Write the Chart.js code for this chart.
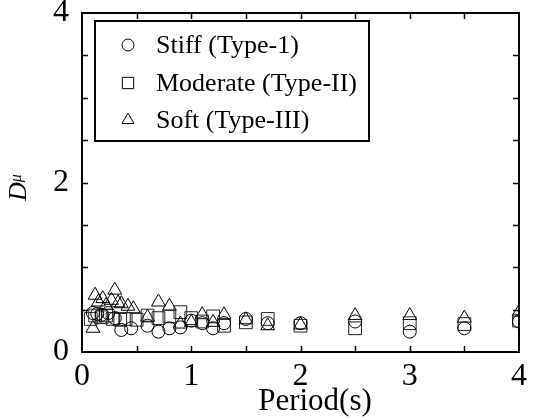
<!DOCTYPE html>
<html>
<head>
<meta charset="utf-8">
<script src="https://cdn.jsdelivr.net/npm/chart.js@4.4.1/dist/chart.umd.min.js"></script>
<style>
  html, body { margin: 0; padding: 0; background: #fff; }
  #wrap { width: 534px; height: 420px; }
</style>
</head>
<body>
<div id="wrap"><canvas id="ductilityChart"></canvas></div>
<script>
// Period (s) and D_mu values for each site class
const stiffPeriod = [0.10, 0.14, 0.18, 0.24, 0.30, 0.36, 0.45, 0.60, 0.70, 0.80, 0.90, 1.00, 1.10, 1.20, 1.30, 1.50, 1.70, 2.00, 2.50, 3.00, 3.50, 4.00];
const stiffDmu    = [0.46, 0.45, 0.44, 0.46, 0.40, 0.26, 0.28, 0.31, 0.24, 0.28, 0.29, 0.37, 0.34, 0.28, 0.34, 0.39, 0.34, 0.34, 0.36, 0.24, 0.28, 0.36];

const moderatePeriod = [0.08, 0.12, 0.18, 0.22, 0.28, 0.35, 0.40, 0.50, 0.60, 0.70, 0.80, 0.90, 1.00, 1.10, 1.20, 1.30, 1.50, 1.70, 2.00, 2.50, 3.00, 3.50, 4.00];
const moderateDmu    = [0.39, 0.43, 0.41, 0.43, 0.39, 0.38, 0.39, 0.38, 0.43, 0.40, 0.42, 0.47, 0.40, 0.36, 0.42, 0.31, 0.35, 0.39, 0.31, 0.28, 0.34, 0.33, 0.37];

const softPeriod = [0.10, 0.12, 0.15, 0.19, 0.22, 0.27, 0.30, 0.33, 0.36, 0.42, 0.47, 0.60, 0.70, 0.80, 0.90, 1.00, 1.10, 1.20, 1.30, 1.50, 1.70, 2.00, 2.50, 3.00, 3.50, 4.00];
const softDmu    = [0.28, 0.67, 0.59, 0.63, 0.55, 0.61, 0.73, 0.58, 0.57, 0.54, 0.51, 0.41, 0.59, 0.54, 0.33, 0.35, 0.44, 0.35, 0.44, 0.38, 0.31, 0.32, 0.43, 0.43, 0.40, 0.47];

const seriesLabels = ['Stiff (Type-1)', 'Moderate (Type-II)', 'Soft (Type-III)'];
const xTickLabels = [0, 1, 2, 3, 4];
const yTickLabels = [0, 2, 4];

const SERIF = '"Liberation Serif", "Times New Roman", serif';

function toPoints(xs, ys) {
    return xs.map(function(x, i) { return { x: x, y: ys[i] }; });
}

// frame, inward ticks on all four sides, axis titles and the boxed legend
const framePlugin = {
    id: 'frame',
    afterDraw: function(chart) {
        const ctx = chart.ctx;
        const a = chart.chartArea;
        const xs = chart.scales.x;
        const ys = chart.scales.y;
        ctx.save();
        ctx.strokeStyle = '#000';
        ctx.lineWidth = 2;
        ctx.strokeRect(a.left, a.top, a.right - a.left, a.bottom - a.top);

        ctx.lineWidth = 1.5;
        ctx.beginPath();
        for (let v = 0.5; v < 4; v += 0.5) {
            const px = Math.round(xs.getPixelForValue(v)) + 0.5;
            ctx.moveTo(px, a.bottom); ctx.lineTo(px, a.bottom - 6);
            ctx.moveTo(px, a.top); ctx.lineTo(px, a.top + 6);
            const py = Math.round(ys.getPixelForValue(v)) + 0.5;
            ctx.moveTo(a.left, py); ctx.lineTo(a.left + 6, py);
            ctx.moveTo(a.right, py); ctx.lineTo(a.right - 6, py);
        }
        ctx.stroke();

        // x title
        ctx.fillStyle = '#000';
        ctx.font = '31px ' + SERIF;
        ctx.textAlign = 'center';
        ctx.textBaseline = 'alphabetic';
        ctx.fillText('Period(s)', 315, 410);

        // y title: italic D with mu
        ctx.save();
        ctx.translate(26, 201);
        ctx.rotate(-Math.PI / 2);
        ctx.textAlign = 'left';
        ctx.font = 'italic 26px ' + SERIF;
        ctx.fillText('D', 0, 0);
        const dw = ctx.measureText('D').width;
        ctx.font = 'italic 16px ' + SERIF;
        ctx.fillText('\u03bc', dw, -5);
        ctx.restore();

        // legend box
        ctx.lineWidth = 2;
        ctx.strokeRect(95, 21, 274, 120);
        const rows = [45, 83, 120];
        const styles = ['circle', 'rect', 'triangle'];
        const radii = [6, 8, 7];
        ctx.font = '26px ' + SERIF;
        ctx.textAlign = 'left';
        ctx.textBaseline = 'middle';
        chart.data.datasets.forEach(function(ds, i) {
            ctx.lineWidth = 1;
            ctx.strokeStyle = '#000';
            ctx.fillStyle = 'rgba(0,0,0,0)';
            Chart.helpers.drawPoint(ctx, { pointStyle: styles[i], radius: radii[i], borderWidth: 1, rotation: 0 }, 128, rows[i]);
            ctx.fillStyle = '#000';
            ctx.fillText(ds.label, 156, rows[i] + 1);
        });
        ctx.restore();
    }
};

const ctx = document.getElementById('ductilityChart').getContext('2d');
new Chart(ctx, {
    type: 'scatter',
    data: {
        datasets: [
            {
                label: seriesLabels[0],
                data: toPoints(stiffPeriod, stiffDmu),
                pointStyle: 'circle',
                pointRadius: 6.5,
                borderColor: '#000',
                backgroundColor: 'rgba(0,0,0,0)',
                borderWidth: 1
            },
            {
                label: seriesLabels[1],
                data: toPoints(moderatePeriod, moderateDmu),
                pointStyle: 'rect',
                pointRadius: 9,
                borderColor: '#222',
                backgroundColor: 'rgba(0,0,0,0)',
                borderWidth: 1
            },
            {
                label: seriesLabels[2],
                data: toPoints(softPeriod, softDmu),
                pointStyle: 'triangle',
                pointRadius: 8,
                borderColor: '#000',
                backgroundColor: 'rgba(0,0,0,0)',
                borderWidth: 1
            }
        ]
    },
    options: {
        responsive: true,
        maintainAspectRatio: false,
        animation: false,
        events: [],
        layout: { padding: { left: 0, top: 13, right: 15, bottom: 0 } },
        plugins: {
            legend: { display: false },
            tooltip: { enabled: false }
        },
        scales: {
            x: {
                type: 'linear',
                min: 0,
                max: 4,
                grid: { display: false, drawTicks: false },
                border: { display: false },
                afterFit: function(scale) {
                    scale.height = 68;
                    scale.paddingLeft = 0;
                    scale.paddingRight = 0;
                },
                afterBuildTicks: function(scale) {
                    scale.ticks = xTickLabels.map(function(v) { return { value: v }; });
                },
                ticks: {
                    autoSkip: false,
                    maxRotation: 0,
                    padding: 5,
                    color: '#000',
                    font: { family: SERIF, size: 32 }
                }
            },
            y: {
                type: 'linear',
                min: 0,
                max: 4,
                grid: { display: false, drawTicks: false },
                border: { display: false },
                afterFit: function(scale) {
                    scale.width = 82;
                    scale.paddingTop = 0;
                    scale.paddingBottom = 0;
                },
                afterBuildTicks: function(scale) {
                    scale.ticks = yTickLabels.map(function(v) { return { value: v }; });
                },
                ticks: {
                    autoSkip: false,
                    padding: 13,
                    color: '#000',
                    font: { family: SERIF, size: 32 }
                }
            }
        }
    },
    plugins: [framePlugin]
});
</script>
</body>
</html>
